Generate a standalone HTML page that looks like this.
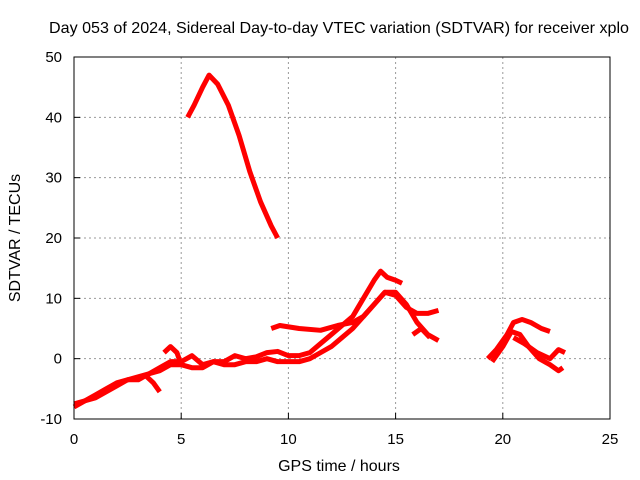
<!DOCTYPE html>
<html><head><meta charset="utf-8"><style>
body{margin:0;background:#fff}
svg{display:block;font-family:"Liberation Sans",sans-serif}
</style></head><body>
<svg id="chart" width="640" height="480">
<text x="339" y="33" font-size="16" text-anchor="middle" textLength="580" lengthAdjust="spacingAndGlyphs">Day 053 of 2024, Sidereal Day-to-day VTEC variation (SDTVAR) for receiver xplo</text>
<text x="339" y="471" font-size="16" text-anchor="middle">GPS time / hours</text>
<text transform="translate(20,238) rotate(-90)" font-size="16" text-anchor="middle">SDTVAR / TECUs</text>
<g id="grid"></g><g id="series"></g>
<rect x="74" y="57" width="536" height="362" fill="none" stroke="#000" stroke-width="1"/>
<g id="ticks"></g>
</svg>
<script>
const xTicks=[0,5,10,15,20,25];
const yTicks=[-10,0,10,20,30,40,50];
const seriesA=[[5.3,40],[5.6,42],[6.0,45],[6.3,47],[6.7,45.5],[7.2,42],[7.7,37],[8.2,31],[8.7,26],[9.2,22],[9.5,20]];
const seriesB=[[0,-8],[0.5,-7],[1,-6],[1.5,-5],[2,-4],[2.5,-3.5],[3,-3],[3.5,-2.5],[4,-1.5],[4.5,-0.5],[5,-0.5],[5.5,0.5],[6,-1],[6.5,-0.5],[7,-0.5],[7.5,0.5],[8,0],[8.5,0.3],[9,1],[9.5,1.2],[10,0.5],[10.5,0.5],[11,1],[11.5,2.5],[12,4],[12.5,5.5],[13,7],[13.5,10],[14,13],[14.3,14.5],[14.6,13.5],[15,13],[15.3,12.5]];
const seriesC=[[0,-7.5],[0.5,-7],[1,-6.5],[1.5,-5.5],[2,-4.5],[2.5,-3.5],[3,-3.5],[3.5,-2.5],[4,-2],[4.5,-1],[5,-1],[5.5,-1.5],[6,-1.5],[6.5,-0.5],[7,-1],[7.5,-1],[8,-0.5],[8.5,-0.5],[9,0],[9.5,-0.5],[10,-0.5],[10.5,-0.5],[11,0],[11.5,1],[12,2],[12.5,3.5],[13,5],[13.5,7],[14,9],[14.5,11],[15,10.5],[15.5,8.5],[16,7.5],[16.5,7.5],[17,8]];
const seriesD=[[9.2,5],[9.6,5.5],[10.5,5],[11.5,4.7],[12.3,5.5],[13,6],[13.5,7],[14,9],[14.5,11],[15,11],[15.5,9],[16,6],[16.5,4],[17,3]];
const seriesE=[[19.3,0],[19.7,1.5],[20.2,4],[20.5,6],[20.9,6.5],[21.3,6],[21.8,5],[22.2,4.5]];
const seriesF=[[19.5,-0.5],[20,2],[20.4,4.5],[20.8,4],[21.2,2],[21.7,0],[22.2,-1],[22.6,-2],[22.8,-1.5]];
const seriesG=[[20.5,3.5],[21,2.5],[21.6,1],[22.2,0],[22.6,1.5],[22.9,1]];
const seriesH=[[3.4,-3],[3.7,-4],[4,-5.5]];
const seriesI=[[4.2,1],[4.5,2],[4.8,1],[5,-1]];
const seriesJ=[[15.8,4],[16.2,5],[16.6,3.5]];
const allSeries=[seriesA,seriesB,seriesC,seriesD,seriesE,seriesF,seriesG,seriesH,seriesI,seriesJ];
const X=h=>74+h*536/25;
const Y=v=>57+(50-v)*362/60;
const NS="http://www.w3.org/2000/svg";
const grid=document.getElementById('grid'),ticks=document.getElementById('ticks'),ser=document.getElementById('series');
function mk(tag,attrs,parent){const e=document.createElementNS(NS,tag);for(const k in attrs)e.setAttribute(k,attrs[k]);parent.appendChild(e);return e;}
xTicks.forEach(t=>{
  if(t>0&&t<25){const g=mk('line',{x1:X(t),x2:X(t),y1:57,y2:419,stroke:'#999','stroke-dasharray':'2,3'},grid);
  
  }
  const tk=mk('line',{x1:X(t),x2:X(t),y1:419,y2:413,stroke:'#000'},ticks);
  
  
  const l=mk('text',{x:X(t),y:444,'font-size':15,'text-anchor':'middle'},ticks);l.textContent=t;
  
  
});
yTicks.forEach(t=>{
  if(t>-10&&t<50){const g=mk('line',{x1:74,x2:610,y1:Y(t),y2:Y(t),stroke:'#999','stroke-dasharray':'2,3'},grid);
  
  }
  const tk=mk('line',{x1:74,x2:80,y1:Y(t),y2:Y(t),stroke:'#000'},ticks);
  
  
  const l=mk('text',{x:62,y:Y(t)+5,'font-size':15,'text-anchor':'end'},ticks);l.textContent=t;
  
  
});
allSeries.forEach((s,i)=>{
  const p=mk('polyline',{points:s.map(d=>X(d[0])+','+Y(d[1])).join(' '),fill:'none',stroke:'#ff0000','stroke-width':5,'stroke-linejoin':'round'},ser);
  
  
});
</script>
</body></html>
